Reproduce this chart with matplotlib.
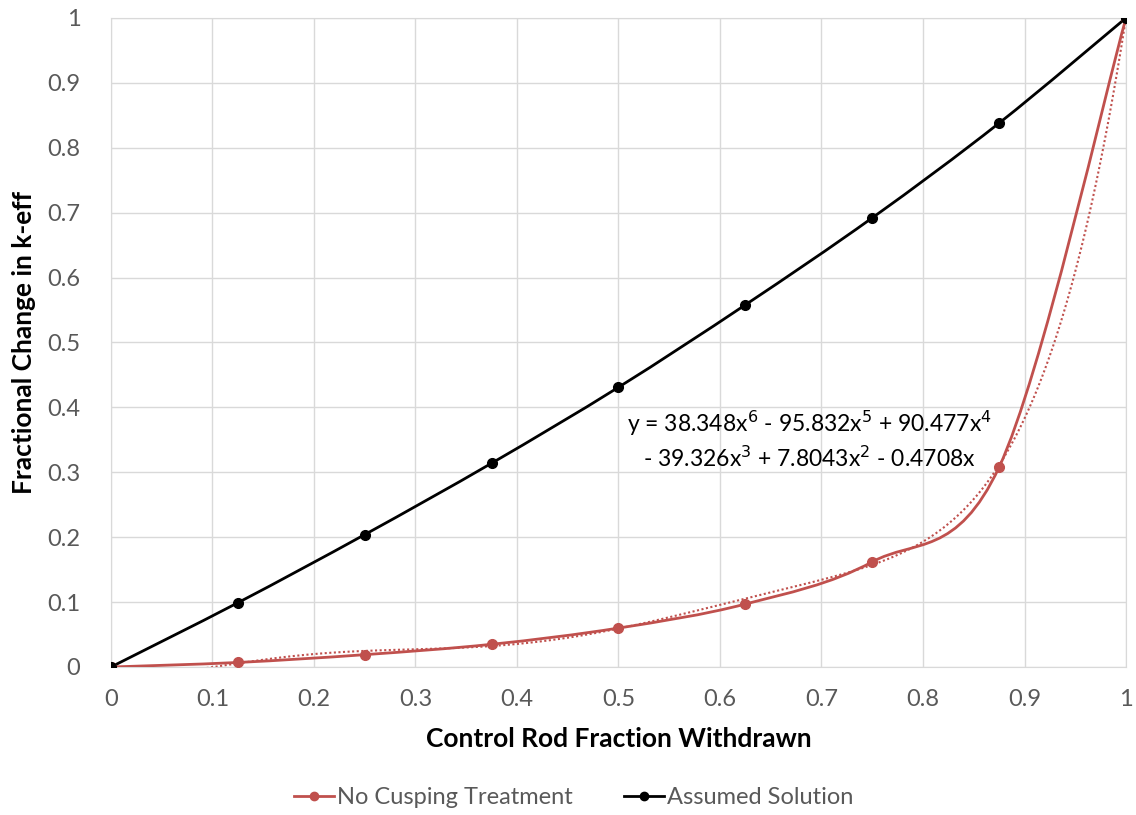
import numpy as np
import matplotlib
matplotlib.use("Agg")
import matplotlib.pyplot as plt
from matplotlib.path import Path
from matplotlib.patches import PathPatch
from matplotlib.lines import Line2D

# data
rod_fraction = [0, 0.125, 0.25, 0.375, 0.5, 0.625, 0.75, 0.875, 1.0]
no_cusping = [0, 0.007, 0.019, 0.035, 0.060, 0.097, 0.162, 0.308, 1.0]
assumed = [0, 0.099, 0.204, 0.314, 0.431, 0.558, 0.692, 0.838, 1.0]

# poly trendline coefficients as printed (x^6 ... x^0)
trend_coef = [38.348, -95.832, 90.477, -39.326, 7.8043, -0.4708, 0.0]

x_ticks = [0, 0.1, 0.2, 0.3, 0.4, 0.5, 0.6, 0.7, 0.8, 0.9, 1]
y_ticks = [0, 0.1, 0.2, 0.3, 0.4, 0.5, 0.6, 0.7, 0.8, 0.9, 1]

RED = "#C0504D"
GREY = "#595959"
plt.rcParams['font.family'] = ['Lato', 'DejaVu Sans']


def smooth_path(xs, ys):
    # Excel-style smoothed line: cubic bezier through the points
    pts = np.column_stack([xs, ys])
    verts = [pts[0]]
    codes = [Path.MOVETO]
    n = len(pts)
    for i in range(n - 1):
        p0 = pts[max(i - 1, 0)]
        p1 = pts[i]
        p2 = pts[i + 1]
        p3 = pts[min(i + 2, n - 1)]
        c1 = p1 + (p2 - p0) / 6
        c2 = p2 - (p3 - p1) / 6
        verts += [c1, c2, p2]
        codes += [Path.CURVE4] * 3
    return Path(verts, codes)


fig = plt.figure(figsize=(11.36, 8.15), dpi=100)
ax = fig.add_axes([0.0977, 0.1816, 0.8935, 0.7964])

# trendline (dotted)
xt = np.linspace(0, 1, 300)
ax.plot(xt, np.polyval(trend_coef, xt), color=RED, lw=1.5, ls=(0, (1, 1.2)), zorder=2)

# smoothed series
for ys, col in [(no_cusping, RED), (assumed, "black")]:
    ax.add_patch(PathPatch(smooth_path(rod_fraction, ys), fill=False,
                           edgecolor=col, lw=2, zorder=3))
    ax.plot(rod_fraction, ys, ls="none", marker="o", ms=7, color=col, zorder=4)

ax.set_xlim(0, 1)
ax.set_ylim(0, 1)
ax.set_xticks(x_ticks)
ax.set_yticks(y_ticks)
ax.set_xticklabels([f"{t:g}" for t in x_ticks])
ax.set_yticklabels([f"{t:g}" for t in y_ticks])
ax.tick_params(length=0, labelsize=17, labelcolor=GREY)
ax.tick_params(axis="x", pad=16)
ax.tick_params(axis="y", pad=22)
ax.grid(color="#D9D9D9", lw=1)
ax.set_axisbelow(True)
for s in ax.spines.values():
    s.set_color("#D9D9D9")

ax.set_xlabel("Control Rod Fraction Withdrawn", fontsize=19, fontweight="bold", labelpad=12)
ax.set_ylabel("Fractional Change in k-eff", fontsize=19, fontweight="bold", labelpad=8)

ax.text(0.688, 0.35,
        "y = 38.348x$^{6}$ - 95.832x$^{5}$ + 90.477x$^{4}$\n"
        "- 39.326x$^{3}$ + 7.8043x$^{2}$ - 0.4708x",
        ha="center", va="center", fontsize=16.5, linespacing=1.35)

handles = [Line2D([], [], color=RED, lw=2, marker="o", ms=6),
           Line2D([], [], color="black", lw=2, marker="o", ms=6)]
fig.legend(handles, ["No Cusping Treatment", "Assumed Solution"],
           loc="center", bbox_to_anchor=(0.505, 0.021), ncol=2, frameon=False,
           fontsize=17, labelcolor=GREY, handlelength=1.7, handletextpad=0.1,
           columnspacing=2.2)

fig.savefig("out.png", dpi=100)
